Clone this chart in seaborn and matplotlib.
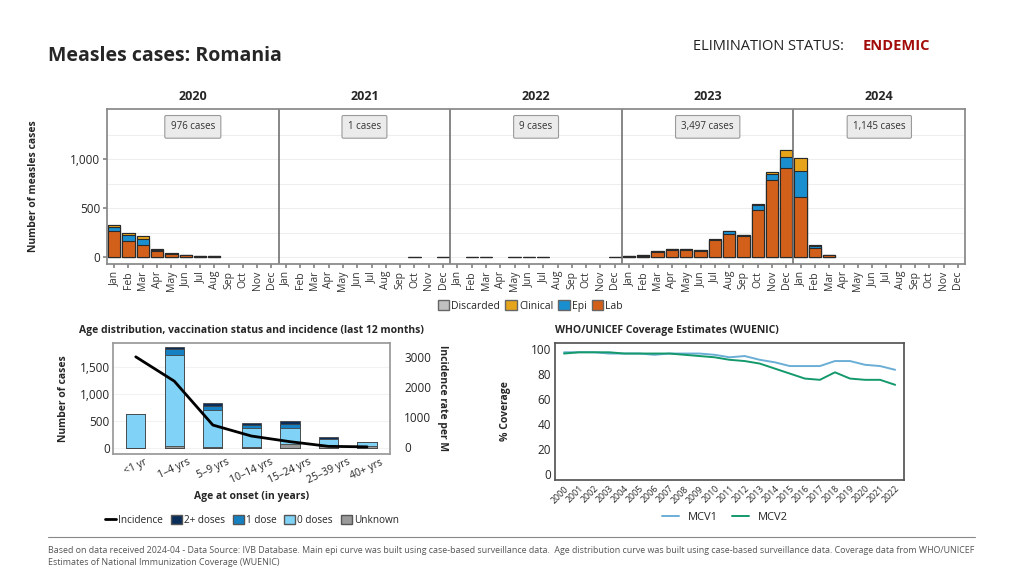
import matplotlib
matplotlib.use("Agg")
import matplotlib.pyplot as plt
import matplotlib.patches as mpatches
import matplotlib.lines as mlines
import seaborn as sns

sns.set_theme(style="white")
plt.rcParams['font.family'] = ['Open Sans', 'DejaVu Sans']

# --- DATA: monthly epi curve ---
years = [2020, 2021, 2022, 2023, 2024]
months = ["Jan", "Feb", "Mar", "Apr", "May", "Jun", "Jul", "Aug", "Sep", "Oct", "Nov", "Dec"]
year_totals = ["976 cases", "1 cases", "9 cases", "3,497 cases", "1,145 cases"]

lab = [265, 165, 125, 60, 30, 20, 10, 12, 0, 0, 0, 0,
       0, 0, 0, 0, 0, 0, 0, 0, 0, 1, 0, 1,
       0, 2, 1, 0, 1, 2, 2, 0, 0, 0, 0, 1,
       9, 16, 57, 75, 75, 67, 172, 240, 220, 480, 790, 910,
       610, 95, 18, 0, 0, 0, 0, 0, 0, 0, 0, 0]
epi = [40, 60, 55, 15, 5, 3, 2, 2, 0, 0, 0, 0,
       0, 0, 0, 0, 0, 0, 0, 0, 0, 0, 0, 0,
       0, 0, 0, 0, 0, 0, 0, 0, 0, 0, 0, 0,
       1, 2, 3, 5, 5, 3, 6, 25, 8, 55, 55, 115,
       266, 22, 2, 0, 0, 0, 0, 0, 0, 0, 0, 0]
clinical = [20, 20, 35, 5, 3, 2, 0, 2, 0, 0, 0, 0,
            0, 0, 0, 0, 0, 0, 0, 0, 0, 0, 0, 0,
            0, 0, 0, 0, 0, 0, 0, 0, 0, 0, 0, 0,
            0, 0, 0, 0, 0, 0, 2, 5, 2, 5, 25, 64,
            130, 2, 0, 0, 0, 0, 0, 0, 0, 0, 0, 0]
discarded = [0] * 60

# --- DATA: age distribution ---
age_groups = ["<1 yr", "1–4 yrs", "5–9 yrs", "10–14 yrs", "15–24 yrs", "25–39 yrs", "40+ yrs"]
unknown = [5, 37, 18, 18, 62, 37, 37]
dose0 = [615, 1672, 679, 352, 308, 117, 62]
dose1 = [5, 111, 74, 49, 62, 0, 0]
dose2 = [3, 37, 62, 37, 55, 37, 0]
incidence = [3000, 2190, 730, 365, 177, 22, 5]

# --- DATA: WUENIC coverage ---
cov_years = list(range(2000, 2023))
mcv1 = [97, 97, 97, 96, 96, 96, 95, 96, 96, 96, 95, 93, 94, 91, 89, 86, 86, 86, 90, 90, 87, 86, 83]
mcv2 = [96, 97, 97, 97, 96, 96, 96, 96, 95, 94, 93, 91, 90, 88, 84, 80, 76, 75, 81, 76, 75, 75, 71]

c_lab, c_epi, c_clin, c_disc = "#d2601a", "#1a8fcf", "#e6a41b", "#c0c0c0"
c_d2, c_d1, c_d0, c_unk = "#0b2d5a", "#1581c2", "#80d3f7", "#9a9a9a"

fig = plt.figure(figsize=(10.24, 5.76), dpi=100)

# ================= TOP: epi curve =================
ax = fig.add_axes([0.1045, 0.5417, 0.838, 0.269])
keys = [f"{y}-{m}" for y in years for m in months]

c1 = lab
c2 = [a + b for a, b in zip(c1, epi)]
c3 = [a + b for a, b in zip(c2, clinical)]
c4 = [a + b for a, b in zip(c3, discarded)]
for cum, col in [(c4, c_disc), (c3, c_clin), (c2, c_epi), (c1, c_lab)]:
    xs = [k for k, v in zip(keys, cum) if v > 0]
    ys = [v for v in cum if v > 0]
    sns.barplot(x=xs, y=ys, order=keys, color=col, saturation=1, width=0.86,
                edgecolor="#2a2a2a", linewidth=0.8, ax=ax)

ax.set_xlim(-0.5, 59.5)
ax.set_ylim(-70, 1510)
ax.set_yticks([0, 500, 1000])
ax.set_yticklabels(["0", "500", "1,000"], fontsize=8.5)
ax.set_yticks([250, 750, 1250], minor=True)
ax.grid(axis="y", which="both", color="#eeeeee", lw=0.8)
ax.set_axisbelow(True)
ax.set_xticks(range(60))
ax.set_xticklabels(months * 5, rotation=90, fontsize=7.5, color="#333333")
ax.tick_params(axis="both", length=3, color="#888888", left=True, bottom=True, pad=2)
ax.set_xlabel("")
ax.set_ylabel("Number of measles cases", fontsize=7.5, fontweight="bold", labelpad=22)
for s in ax.spines.values():
    s.set_color("#888888")
for i in range(1, 5):
    ax.axvline(12 * i - 0.5, color="#666666", lw=1.1)
for i, (y, t) in enumerate(zip(years, year_totals)):
    ax.text(5.5 + 12 * i, 1.04, str(y), transform=ax.get_xaxis_transform(),
            ha="center", va="bottom", fontsize=9, fontweight="bold")
    ax.text(5.5 + 12 * i, 0.885, t, transform=ax.get_xaxis_transform(),
            ha="center", va="center", fontsize=7, color="#333333",
            bbox=dict(boxstyle="round,pad=0.6,rounding_size=0.15", fc="#ebebeb", ec="#9a9a9a", lw=0.8))

top_handles = [mpatches.Patch(fc=c_disc, ec="#666666", label="Discarded"),
               mpatches.Patch(fc=c_clin, ec="#666666", label="Clinical"),
               mpatches.Patch(fc=c_epi, ec="#666666", label="Epi"),
               mpatches.Patch(fc=c_lab, ec="#666666", label="Lab")]
fig.legend(handles=top_handles, loc="center", bbox_to_anchor=(0.518, 0.469), ncol=4,
           frameon=False, fontsize=7.5, handlelength=1.1, handleheight=1.1,
           handletextpad=0.2, columnspacing=0.5)

# ================= AGE distribution =================
ax2 = fig.add_axes([0.110, 0.2118, 0.271, 0.193])
a1 = unknown
a2 = [a + b for a, b in zip(a1, dose0)]
a3 = [a + b for a, b in zip(a2, dose1)]
a4 = [a + b for a, b in zip(a3, dose2)]
for cum, col in [(a4, c_d2), (a3, c_d1), (a2, c_d0), (a1, c_unk)]:
    sns.barplot(x=age_groups, y=cum, order=age_groups, color=col, saturation=1, width=0.5,
                edgecolor="#444444", linewidth=0.6, ax=ax2)
ax2.set_xlim(-0.6, 6.6)
ax2.set_ylim(-115, 1940)
ax2.set_yticks([0, 500, 1000, 1500])
ax2.set_yticklabels(["0", "500", "1,000", "1,500"], fontsize=8.5)
ax2.grid(axis="y", color="#f2f2f2", lw=0.8)
ax2.set_axisbelow(True)
ax2.set_xticks(range(7))
ax2.set_xticklabels(age_groups, rotation=25, ha="center", fontsize=7.5)
ax2.tick_params(axis="both", length=0, pad=2)
ax2.set_xlabel("Age at onset (in years)", fontsize=7.5, fontweight="bold", labelpad=3)
ax2.set_ylabel("Number of cases", fontsize=7.5, fontweight="bold", labelpad=8)
ax2.set_title("Age distribution, vaccination status and incidence (last 12 months)",
              fontsize=7.5, fontweight="bold", pad=7)
for s in ax2.spines.values():
    s.set_color("#999999")

ax3 = ax2.twinx()
sns.lineplot(x=list(range(7)), y=incidence, color="black", lw=2, ax=ax3)
ax3.set_ylim(-233, 3465)
ax3.set_yticks([0, 1000, 2000, 3000])
ax3.set_yticklabels(["0", "1000", "2000", "3000"], fontsize=8.5)
ax3.tick_params(axis="y", length=0, pad=10)
ax3.set_ylabel("Incidence rate per M", fontsize=7.5, fontweight="bold", rotation=-90, labelpad=12)
for s in ax3.spines.values():
    s.set_visible(False)

age_handles = [mlines.Line2D([], [], color="black", lw=2, label="Incidence"),
               mpatches.Patch(fc=c_d2, ec="#555555", label="2+ doses"),
               mpatches.Patch(fc=c_d1, ec="#555555", label="1 dose"),
               mpatches.Patch(fc=c_d0, ec="#555555", label="0 doses"),
               mpatches.Patch(fc=c_unk, ec="#555555", label="Unknown")]
fig.legend(handles=age_handles, loc="center", bbox_to_anchor=(0.246, 0.097), ncol=5,
           frameon=False, fontsize=7.2, handlelength=1.1, handleheight=1.1,
           handletextpad=0.2, columnspacing=0.8)

# ================= WUENIC =================
ax4 = fig.add_axes([0.542, 0.1667, 0.341, 0.238])
sns.lineplot(x=cov_years, y=mcv1, color="#6aaed6", lw=1.4, ax=ax4)
sns.lineplot(x=cov_years, y=mcv2, color="#14996b", lw=1.4, ax=ax4)
ax4.set_xlim(1999.4, 2022.6)
ax4.set_ylim(-5, 104.5)
ax4.set_yticks([0, 20, 40, 60, 80, 100])
ax4.set_yticklabels([0, 20, 40, 60, 80, 100], fontsize=8.5)
ax4.set_xticks(cov_years)
ax4.set_xticklabels(cov_years, rotation=45, ha="right", rotation_mode="anchor", fontsize=6.3)
ax4.tick_params(axis="both", length=0, pad=3)
ax4.set_ylabel("% Coverage", fontsize=7.5, fontweight="bold", labelpad=14)
ax4.set_title("WHO/UNICEF Coverage Estimates (WUENIC)", fontsize=7.5, fontweight="bold",
              loc="left", pad=7)
for s in ax4.spines.values():
    s.set_color("#555555")

cov_handles = [mlines.Line2D([], [], color="#6aaed6", lw=1.4, label="MCV1"),
               mlines.Line2D([], [], color="#14996b", lw=1.4, label="MCV2")]
fig.legend(handles=cov_handles, loc="center", bbox_to_anchor=(0.708, 0.101), ncol=2,
           frameon=False, fontsize=8, handlelength=1.6, columnspacing=1.2)

# ================= header / footer =================
fig.text(0.047, 0.902, "Measles cases: Romania", fontsize=14, fontweight="bold", va="center")
fig.text(0.677, 0.920, "ELIMINATION STATUS:", fontsize=10.5, va="center", color="#222222")
fig.text(0.842, 0.920, "ENDEMIC", fontsize=10.5, fontweight="bold", va="center", color="#a30b0b")

fig.add_artist(mlines.Line2D([0.047, 0.952], [0.068, 0.068], color="#888888", lw=0.8))
fig.text(0.047, 0.044, "Based on data received 2024-04 - Data Source: IVB Database. Main epi curve was built using "
         "case-based surveillance data.  Age distribution curve was built using case-based surveillance data. "
         "Coverage data from WHO/UNICEF", fontsize=6.4, color="#555555", va="center")
fig.text(0.047, 0.024, "Estimates of National Immunization Coverage (WUENIC)", fontsize=6.4,
         color="#555555", va="center")

fig.savefig("out.png", dpi=100)
